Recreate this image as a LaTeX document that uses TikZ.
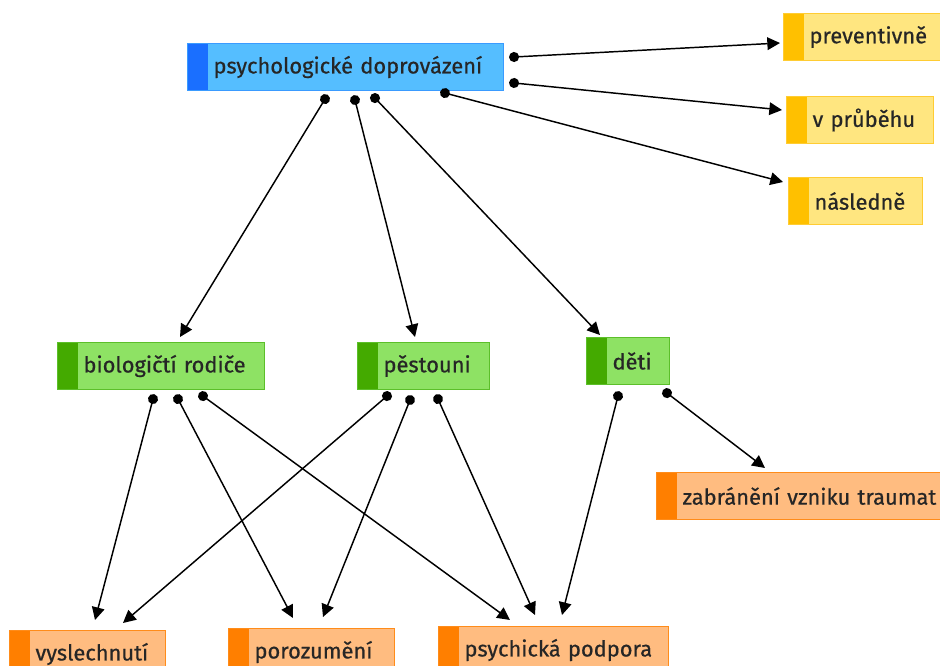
\documentclass[tikz,border=0pt]{standalone}
\usepackage{fontspec}
\setmainfont{Fira Sans}[FakeBold=0.6]
\usetikzlibrary{arrows.meta,calc}
\definecolor{bluefill}{HTML}{55BEFF}
\definecolor{bluebar}{HTML}{1A6FFF}
\definecolor{blueline}{HTML}{3A9BFF}
\definecolor{yelfill}{HTML}{FFE680}
\definecolor{yelbar}{HTML}{FFC000}
\definecolor{yelline}{HTML}{FFCC33}
\definecolor{grnfill}{HTML}{8EE264}
\definecolor{grnbar}{HTML}{44AA00}
\definecolor{grnline}{HTML}{5CBF2A}
\definecolor{orgfill}{HTML}{FFBC80}
\definecolor{orgbar}{HTML}{FF7F00}
\definecolor{orgline}{HTML}{FF8C1A}
\begin{document}
\begin{tikzpicture}[x=0.75pt,y=-0.75pt,
  mmbox/.style={draw=#1line, fill=#1fill, line width=0.8pt, inner xsep=0pt, inner ysep=0pt,
    minimum height=35.25pt, anchor=north west, align=left, text=black!85,
    font=\fontsize{16.4}{19}\selectfont,
    path picture={\fill[#1bar] (path picture bounding box.north west) rectangle ([xshift=15pt]path picture bounding box.south west);}},
  conn/.style={line width=1.1pt, {Circle[length=7.5pt]}-{Triangle[length=9.5pt,width=9.5pt]}, shorten <=-3.75pt}]
\useasboundingbox (0,0) rectangle (940,666);
\fill[white] (0,0) rectangle (940,666);
% nodes
\node[mmbox=blue, text width=237pt] (top) at (187,43) {\hspace*{19.5pt}psychologické doprovázení};
\node[mmbox=yel, text width=120pt] (prev) at (783,13) {\hspace*{19.5pt}preventivně};
\node[mmbox=yel, text width=110.25pt] (prub) at (786,96) {\hspace*{19.5pt}v průběhu};
\node[mmbox=yel, text width=100.5pt] (nasl) at (788,177) {\hspace*{19.5pt}následně};
\node[mmbox=grn, text width=155.25pt] (bio) at (57,342) {\hspace*{19.5pt}biologičtí rodiče};
\node[mmbox=grn, text width=99pt] (pes) at (357,342) {\hspace*{19.5pt}pěstouni};
\node[mmbox=grn, text width=62.25pt] (deti) at (586,337) {\hspace*{19.5pt}děti};
\node[mmbox=org, text width=216pt] (zab) at (656,472) {\hspace*{19.5pt}zabránění vzniku traumat};
\node[mmbox=org, text width=117pt] (vys) at (9,630) {\hspace*{19.5pt}vyslechnutí};
\node[mmbox=org, text width=124.5pt] (por) at (228,628) {\hspace*{19.5pt}porozumění};
\node[mmbox=org, text width=172.5pt] (psy) at (438,626) {\hspace*{19.5pt}psychická podpora};
% connectors from top
\draw[conn] ($(top.south west)+(138,8)$) -- ($(bio.north west)+(123,-5)$);
\draw[conn] ($(top.south west)+(168,9)$) -- ($(pes.north west)+(58,-5)$);
\draw[conn] ($(top.south west)+(188,7)$) -- ($(deti.north west)+(14,-2)$);
\draw[conn] ($(top.south west)+(258,2)$) -- ($(nasl.north west)+(-5,5)$);
\draw[conn] ($(top.north east)+(10,14)$) -- ($(prev.north west)+(-3,30)$);
\draw[conn] ($(top.north east)+(10,40)$) -- ($(prub.north west)+(-4,14)$);
% from bio
\draw[conn] ($(bio.south west)+(96,9)$) -- ($(vys.north west)+(86,-10)$);
\draw[conn] ($(bio.south west)+(121,9)$) -- ($(por.north west)+(65,-10)$);
\draw[conn] ($(bio.south west)+(146,6)$) -- ($(psy.north west)+(72,-6)$);
% from pes
\draw[conn] ($(pes.south west)+(30,6)$) -- ($(vys.north west)+(114,-7)$);
\draw[conn] ($(pes.south west)+(53,10)$) -- ($(por.north west)+(95,-11)$);
\draw[conn] ($(pes.south west)+(81,9)$) -- ($(psy.north west)+(97,-11)$);
% from deti
\draw[conn] ($(deti.south west)+(32,11)$) -- ($(psy.north west)+(124,-11)$);
\draw[conn] ($(deti.south west)+(81,8)$) -- ($(zab.north west)+(109,-4)$);
\end{tikzpicture}
\end{document}
